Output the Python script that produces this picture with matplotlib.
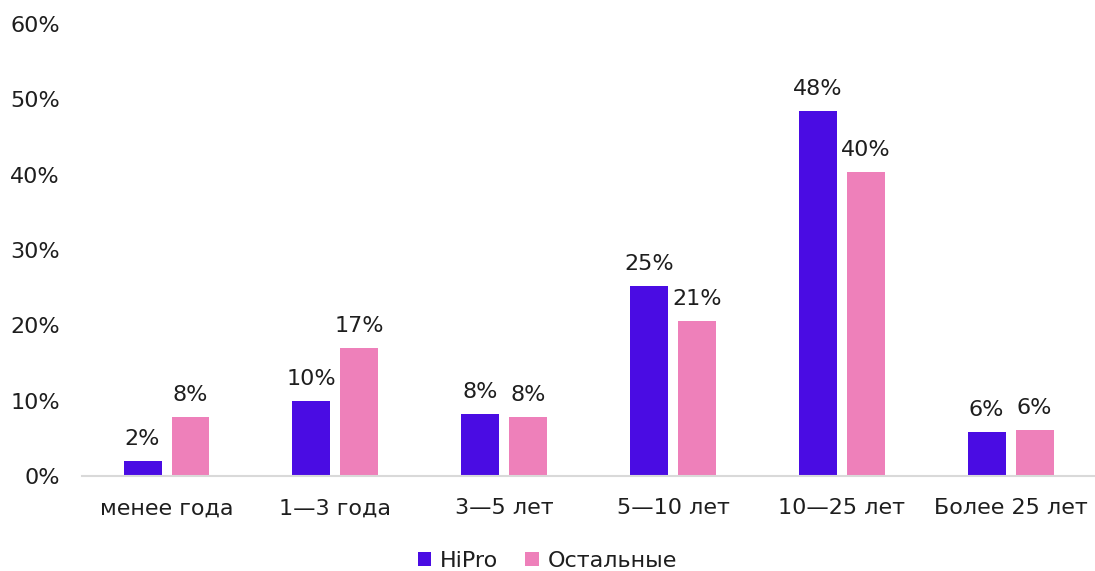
import numpy as np
import matplotlib
matplotlib.use('Agg')
import matplotlib.pyplot as plt
from matplotlib.ticker import FuncFormatter

plt.rcParams['font.family'] = ['DejaVu Sans']

categories = ['менее года', '1—3 года', '3—5 лет', '5—10 лет', '10—25 лет', 'Более 25 лет']
hipro = [2.0, 10.0, 8.2, 25.2, 48.4, 5.8]
others = [7.8, 17.0, 7.8, 20.6, 40.4, 6.1]
series_names = ['HiPro', 'Остальные']
colors = ['#4A0CE3', '#EE80BA']
text_color = '#1e1e1e'

fig = plt.figure(figsize=(10.95, 5.71), dpi=100)
ax = fig.add_axes([0.075, 0.166, 0.925, 0.792])

x = np.arange(len(categories))
width = 0.225
offset = 0.142

for vals, shift, color, name in zip([hipro, others], [-offset, offset], colors, series_names):
    bars = ax.bar(x + shift, vals, width=width, color=color, label=name)
    for b, v in zip(bars, vals):
        ax.text(b.get_x() + b.get_width() / 2, v + 1.6, f'{round(v)}%',
                ha='center', va='bottom', fontsize=16, color=text_color)

ax.set_xlim(-0.5, len(categories) - 0.5)
ax.set_ylim(0, 60)
ax.set_yticks(range(0, 61, 10))
ax.yaxis.set_major_formatter(FuncFormatter(lambda v, _: f'{int(v)}%'))
ax.set_xticks(x)
ax.set_xticklabels(categories)
ax.tick_params(axis='both', length=0, labelsize=16, labelcolor=text_color)
ax.tick_params(axis='x', pad=16)
ax.tick_params(axis='y', pad=16)

for side in ['top', 'right', 'left']:
    ax.spines[side].set_visible(False)
ax.spines['bottom'].set_color('#d9d9d9')
ax.spines['bottom'].set_linewidth(1.5)

leg = fig.legend(loc='lower center', bbox_to_anchor=(0.5, -0.035), ncol=2, frameon=False,
                 fontsize=16, handlelength=0.6, handleheight=0.6, handletextpad=0.4,
                 columnspacing=1.2)
for t in leg.get_texts():
    t.set_color(text_color)

fig.savefig('out.png', dpi=100)
